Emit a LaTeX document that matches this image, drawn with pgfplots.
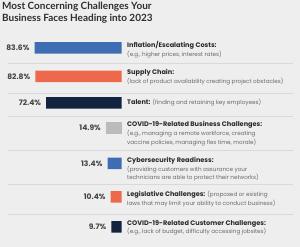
\documentclass[border=0pt]{standalone}
\usepackage{pgfplots}
\pgfplotsset{compat=1.18}
\usepackage{fontspec}
\setmainfont{Lato}
\newfontfamily\labfont{Poppins}
\definecolor{bg}{HTML}{EEEEEE}
\definecolor{cblue}{HTML}{3E6DB4}
\definecolor{corange}{HTML}{EE684B}
\definecolor{cnavy}{HTML}{13233F}
\definecolor{cgray}{HTML}{BBBBBB}
\definecolor{sep}{HTML}{D9D9D9}
\definecolor{ttl}{HTML}{2E2E2E}
\definecolor{hd}{HTML}{2A2A2A}
\definecolor{desc}{HTML}{6A6A6A}
\definecolor{pct}{HTML}{444444}
\begin{document}
\begin{tikzpicture}[x=1bp,y=1bp]
\fill[bg] (0,0) rectangle (300,247);
% separators
\foreach \yy in {63,93,116,150,184,214} {
  \draw[sep, line width=0.8bp] (8,247-\yy) -- (293,247-\yy);
}
\begin{axis}[
  at={(121.5bp,0bp)}, anchor=origin,
  scale only axis, width=116.5bp, height=247bp,
  xmin=0, xmax=112, ymin=0, ymax=247,
  x dir=reverse,
  hide axis, clip=false,
  xbar, bar width=11.5,
  bar shift=0pt,
  /pgf/number format/assume math mode=true,
  nodes near coords={\pgfmathprintnumber[fixed,precision=1,fixed zerofill]{\pgfplotspointmeta}\%},
  point meta=explicit,
  nodes near coords style={anchor=east, inner sep=0pt, xshift=-5bp, font=\labfont\fontsize{7.6}{9}\selectfont\bfseries, text=pct},
  every axis plot/.append style={draw=none},
]
\addplot[fill=cblue] coordinates {(83.6,199) [83.6] (13.4,83.5) [13.4]};
\addplot[fill=corange] coordinates {(82.8,170.5) [82.8] (10.4,50) [10.4]};
\addplot[fill=cnavy] coordinates {(72.4,144) [72.4] (9.7,20) [9.7]};
\addplot[fill=cgray] coordinates {(14.9,119) [14.9]};
\end{axis}
% title
\node[anchor=north west, inner sep=0pt, align=left, text=ttl, font=\fontsize{10}{12.5}\selectfont\bfseries] at (2,245.5)
 {Most Concerning Challenges Your\\Business Faces Heading into 2023};
% labels
\tikzset{lab/.style={anchor=north west, inner sep=0pt, align=left, text=desc, font=\labfont\fontsize{5.7}{8.6}\selectfont}}
\newcommand{\hdr}[1]{\textcolor{hd}{\fontsize{6.6}{8.6}\selectfont\bfseries #1}}
\node[lab] at (127,247-41.5) {\hdr{Inflation/Escalating Costs:}\\(e.g., higher prices, interest rates)};
\node[lab] at (127,247-69.5) {\hdr{Supply Chain:}\\(lack of product availability creating project obstacles)};
\node[lab] at (127,247-99) {\hdr{Talent:} (finding and retaining key employees)};
\node[lab] at (127,247-121.5) {\hdr{COVID-19-Related Business Challenges:}\\(e.g., managing a remote workforce, creating\\vaccine policies, managing flex time, morale)};
\node[lab] at (127,247-157) {\hdr{Cybersecurity Readiness:}\\(providing customers with assurance your\\technicians are able to protect their networks)};
\node[lab] at (127,247-191) {\hdr{Legislative Challenges:} (proposed or existing\\laws that may limit your ability to conduct business)};
\node[lab] at (127,247-220) {\hdr{COVID-19-Related Customer Challenges:}\\(e.g., lack of budget, difficulty accessing jobsites)};
\end{tikzpicture}
\end{document}
